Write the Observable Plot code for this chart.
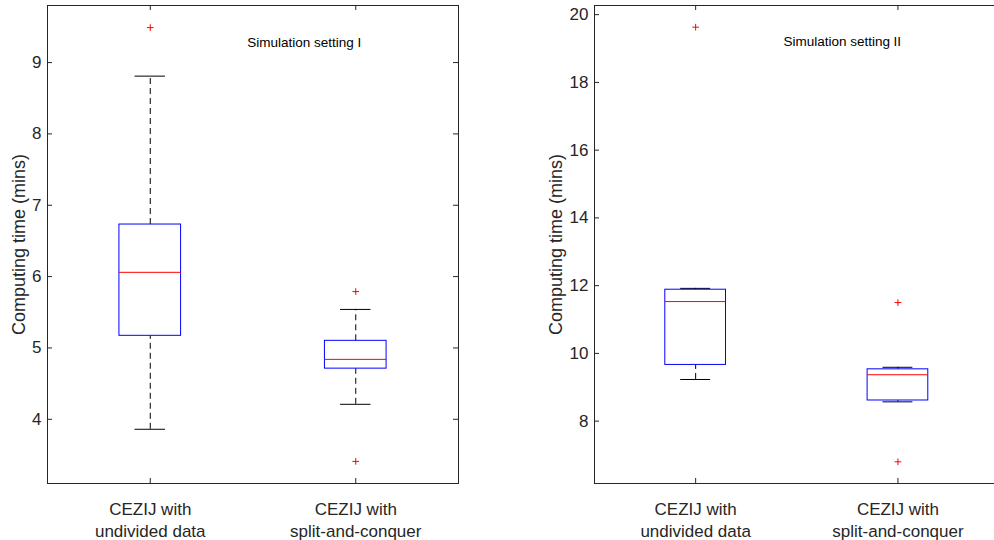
<!DOCTYPE html>
<html><head><meta charset="utf-8">
<script src="https://cdn.jsdelivr.net/npm/d3@7"></script>
<script src="https://cdn.jsdelivr.net/npm/@observablehq/plot@0.6"></script>
<style>
html,body{margin:0;padding:0;background:#fff;}
#wrap{position:relative;width:994px;height:540px;overflow:hidden;background:#fff;}
.panel{position:absolute;top:0;}
</style></head><body><div id="wrap"></div>
<script>
// categories and positions
const categories = ["CEZIJ with\nundivided data", "CEZIJ with\nsplit-and-conquer"];
const positions = [1, 2];
const yLabel = "Computing time (mins)";
const titles = ["Simulation setting I", "Simulation setting II"];

// Simulation setting I (box statistics per category)
const s1Low = [3.86, 4.21];
const s1Q1 = [5.17, 4.71];
const s1Median = [6.06, 4.84];
const s1Q3 = [6.73, 5.10];
const s1High = [8.81, 5.54];
const s1Outliers = [[9.49], [5.79, 3.41]];
const s1YTicks = [4, 5, 6, 7, 8, 9];
const s1Domain = [3.1, 9.8];

// Simulation setting II
const s2Low = [9.23, 8.57];
const s2Q1 = [9.66, 8.61];
const s2Median = [11.53, 9.37];
const s2Q3 = [11.88, 9.53];
const s2High = [11.92, 9.59];
const s2Outliers = [[19.63], [11.50, 6.80]];
const s2YTicks = [8, 10, 12, 14, 16, 18, 20];
const s2Domain = [6.16, 20.27];

const FONT = "'Liberation Sans', Arial, Helvetica, sans-serif";
const AX = "#262626";

function panel(o) {
  const rows = positions.map((p, i) => ({x: p, low: o.low[i], q1: o.q1[i], med: o.med[i], q3: o.q3[i], high: o.high[i]}));
  const outs = positions.flatMap((p, i) => o.outliers[i].map(v => ({x: p, y: v})));
  const fw = o.frameWidth, fh = 478;
  const bw = 0.15, cw = 0.074;
  const marks = [
    Plot.axisY(o.yTicks, {tickSize: 0, tickPadding: 6, label: null, fontSize: 17, fill: AX, tickFormat: d => String(d)}),
    Plot.text(positions, {x: d => d, frameAnchor: "bottom", dy: 16.6, lineAnchor: "top", lineHeight: 1.27,
      text: (d, i) => categories[i], fontSize: 17, fill: AX}),
    Plot.text([yLabel], {frameAnchor: "left", rotate: -90, dx: o.ylabelDx, textAnchor: "middle", lineAnchor: "middle",
      text: d => d, fontSize: 18, fill: AX}),
    Plot.text([{x: o.titleX, t: o.title}], {x: "x", text: "t", frameAnchor: "top", dy: 41, lineAnchor: "bottom",
      textAnchor: "start", fontSize: 13.5, fill: "#000"}),
    // whiskers
    Plot.ruleX(rows, {x: "x", y1: "q3", y2: "high", stroke: "#000", strokeDasharray: "6,4"}),
    Plot.ruleX(rows, {x: "x", y1: "low", y2: "q1", stroke: "#000", strokeDasharray: "6,4"}),
    Plot.ruleY(rows, {y: "high", x1: d => d.x - cw, x2: d => d.x + cw, stroke: "#000"}),
    Plot.ruleY(rows, {y: "low", x1: d => d.x - cw, x2: d => d.x + cw, stroke: "#000"}),
    // boxes
    Plot.rect(rows, {x1: d => d.x - bw, x2: d => d.x + bw, y1: "q1", y2: "q3", stroke: "#0000ff", fill: "white", strokeWidth: 1}),
    Plot.ruleY(rows, {y: "med", x1: d => d.x - bw, x2: d => d.x + bw, stroke: "#ff0000"}),
    // outliers
    Plot.dot(outs, {x: "x", y: "y", symbol: "plus", stroke: "#ff0000", r: 2.3, strokeWidth: 1}),
    // frame and inward ticks
    Plot.frame({stroke: AX}),
    Plot.tickY(o.yTicks, {y: d => d, insetRight: fw - 5, stroke: AX}),
    Plot.tickX(positions, {x: d => d, insetBottom: fh - 5, stroke: AX}),
    Plot.tickX(positions, {x: d => d, insetTop: fh - 5, stroke: AX})
  ];
  if (o.rightTicks) marks.push(Plot.tickY(o.yTicks, {y: d => d, insetLeft: fw - 5, stroke: AX}));
  return Plot.plot({
    width: o.marginLeft + fw + o.marginRight,
    height: 540,
    marginLeft: o.marginLeft, marginRight: o.marginRight, marginTop: 5, marginBottom: 57,
    x: {domain: [0.5, 2.5], axis: null},
    y: {domain: o.domain, axis: null},
    style: {fontFamily: FONT, fontSize: "17px", color: AX, background: "transparent"},
    marks
  });
}

const wrap = document.getElementById("wrap");
const p1 = panel({low: s1Low, q1: s1Q1, med: s1Median, q3: s1Q3, high: s1High, outliers: s1Outliers,
  yTicks: s1YTicks, domain: s1Domain, frameWidth: 411, marginLeft: 47, marginRight: 1,
  ylabelDx: -28, title: titles[0], titleX: 1.472, rightTicks: true});
p1.classList.add("panel"); p1.style.left = "0px";
wrap.appendChild(p1);

const p2 = panel({low: s2Low, q1: s2Q1, med: s2Median, q3: s2Q3, high: s2High, outliers: s2Outliers,
  yTicks: s2YTicks, domain: s2Domain, frameWidth: 404.6, marginLeft: 64, marginRight: 1,
  ylabelDx: -38, title: titles[1], titleX: 1.434, rightTicks: false});
p2.classList.add("panel"); p2.style.left = "530px";
wrap.appendChild(p2);
</script></body></html>
